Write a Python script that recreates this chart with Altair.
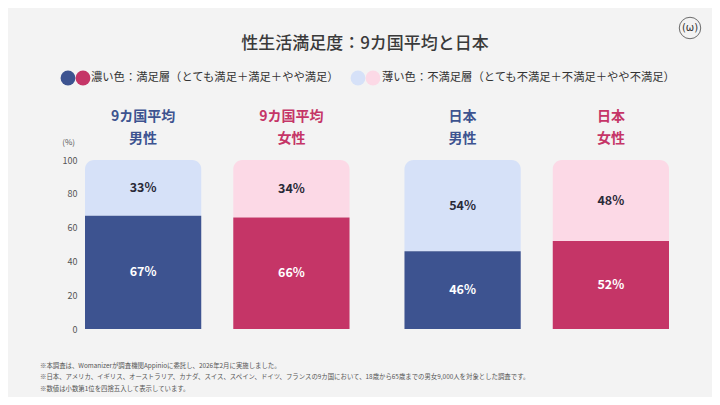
import altair as alt
import pandas as pd

# ---- data ----
regions = ["9カ国平均", "9カ国平均", "日本", "日本"]
genders = ["男性", "女性", "男性", "女性"]
satisfied = [67, 66, 46, 52]
unsatisfied = [33, 34, 54, 48]
y_ticks = [0, 20, 40, 60, 80, 100]

title_text = "性生活満足度：9カ国平均と日本"
legend_dark = "濃い色：満足層（とても満足＋満足＋やや満足）"
legend_light = "薄い色：不満足層（とても不満足＋不満足＋やや不満足）"
notes = [
    "※本調査は、Womanizerが調査機関Appinioに委託し、2026年2月に実施しました。",
    "※日本、アメリカ、イギリス、オーストラリア、カナダ、スイス、スペイン、ドイツ、フランスの9カ国において、18歳から65歳までの男女9,000人を対象とした調査です。",
    "※数値は小数第1位を四捨五入して表示しています。",
]

df = pd.DataFrame({
    "region": regions,
    "gender": genders,
    "sat": satisfied,
    "unsat": unsatisfied,
})
df["total"] = df["sat"] + df["unsat"]
df["sat_lbl"] = df["sat"].astype(str) + "%"
df["unsat_lbl"] = df["unsat"].astype(str) + "%"
df["sat_mid"] = df["sat"] / 2
df["unsat_mid"] = df["sat"] + df["unsat"] / 2

FONT = "Noto Sans CJK JP"
DARK_BLUE = "#3d5390"
CRIMSON = "#c53567"
LIGHT_BLUE = "#d6e1f8"
LIGHT_PINK = "#fcd9e6"
GREY = "#555555"

PL, PT = 77, 152  # plot origin at page (85,160)
W, H = 584, 169
OX, OY = 85, 160

xenc = alt.X("region:N", sort=["9カ国平均", "日本"],
             scale=alt.Scale(paddingInner=0.172, paddingOuter=0), axis=None)
xoff = alt.XOffset("gender:N", sort=["男性", "女性"],
                   scale=alt.Scale(paddingInner=0.216, paddingOuter=0))
yscale = alt.Scale(domain=[0, 100], nice=False)
yaxis = alt.Axis(values=y_ticks, grid=False, domain=False, ticks=False,
                 labelColor=GREY, labelFontSize=9, labelFont=FONT,
                 labelOverlap=False, labelPadding=8, title=None)
gdom = ["男性", "女性"]

base = alt.Chart(df)

light_bar = base.mark_bar(cornerRadiusTopLeft=9, cornerRadiusTopRight=9).encode(
    x=xenc, xOffset=xoff,
    y=alt.Y("sat:Q", scale=yscale, axis=yaxis),
    y2="total:Q",
    color=alt.Color("gender:N", scale=alt.Scale(domain=gdom, range=[LIGHT_BLUE, LIGHT_PINK]), legend=None),
)

dark_bar = base.mark_bar().encode(
    x=xenc, xOffset=xoff,
    y=alt.Y("sat:Q", scale=yscale, axis=yaxis),
    y2=alt.datum(0),
    color=alt.Color("gender:N", scale=alt.Scale(domain=gdom, range=[DARK_BLUE, CRIMSON]), legend=None),
)

sat_txt = base.mark_text(font=FONT, fontSize=12.5, fontWeight="bold", fill="white").encode(
    x=xenc, xOffset=xoff, y=alt.Y("sat_mid:Q", scale=yscale, axis=yaxis), text="sat_lbl:N")
unsat_txt = base.mark_text(font=FONT, fontSize=12.5, fontWeight="bold", fill="#2a2a38").encode(
    x=xenc, xOffset=xoff, y=alt.Y("unsat_mid:Q", scale=yscale, axis=yaxis), text="unsat_lbl:N")

hdr1 = base.mark_text(font=FONT, fontSize=14, fontWeight="bold").encode(
    x=xenc, xOffset=xoff, y=alt.value(117 - OY), text="region:N",
    color=alt.Color("gender:N", scale=alt.Scale(domain=gdom, range=[DARK_BLUE, CRIMSON]), legend=None))
hdr2 = base.mark_text(font=FONT, fontSize=14, fontWeight="bold").encode(
    x=xenc, xOffset=xoff, y=alt.value(139 - OY), text="gender:N",
    color=alt.Color("gender:N", scale=alt.Scale(domain=gdom, range=[DARK_BLUE, CRIMSON]), legend=None))

pct = alt.Chart(pd.DataFrame({"t": ["(%)"]})).mark_text(
    font=FONT, fontSize=8, fill=GREY, align="right").encode(
    x=alt.value(75 - OX), y=alt.value(143 - OY), text="t:N")

title = alt.Chart(pd.DataFrame({"t": [title_text]})).mark_text(
    font=FONT, fontSize=17, fontWeight=500, fill="#3a3a3a").encode(
    x=alt.value(365 - OX), y=alt.value(44 - OY), text="t:N")

def dot(px, col):
    return alt.Chart(pd.DataFrame({"a": [1]})).mark_circle(size=220, opacity=1, fill=col).encode(
        x=alt.value(px - OX), y=alt.value(78 - OY))

def label(px, txt):
    return alt.Chart(pd.DataFrame({"t": [txt]})).mark_text(
        font=FONT, fontSize=11.3, fill="#333333", align="left").encode(
        x=alt.value(px - OX), y=alt.value(78 - OY), text="t:N")

legend_layers = [
    dot(68, DARK_BLUE), dot(83, CRIMSON), label(91, legend_dark),
    dot(358, LIGHT_BLUE), dot(373, LIGHT_PINK), label(382, legend_light),
]

note_layers = [
    alt.Chart(pd.DataFrame({"t": [n]})).mark_text(
        font=FONT, fontSize=6.4, fill=GREY, align="left").encode(
        x=alt.value(40 - OX), y=alt.value(py - OY), text="t:N")
    for n, py in zip(notes, [366, 377, 389])
]

logo_c = alt.Chart(pd.DataFrame({"a": [1]})).mark_point(
    shape="circle", size=460, filled=False, stroke="#333333", strokeWidth=1).encode(
    x=alt.value(690 - OX), y=alt.value(28 - OY))
logo_t = alt.Chart(pd.DataFrame({"t": ["(ω)"]})).mark_text(
    font="DejaVu Sans", fontSize=10, fill="#333333").encode(
    x=alt.value(690 - OX), y=alt.value(28 - OY), text="t:N")

chart = alt.layer(
    light_bar, dark_bar, sat_txt, unsat_txt, hdr1, hdr2, pct, title,
    *legend_layers, *note_layers, logo_c, logo_t,
).resolve_scale(color="independent").properties(
    width=W, height=H,
    autosize=alt.AutoSizeParams(type="none"),
    padding={"left": PL, "top": PT, "right": 704 - PL - W, "bottom": 389 - PT - H},
    background="#f3f3f3",
).configure_view(stroke=None).configure_axis(labelOverlap=False)

chart.save("out.html", embed_options={"renderer": "svg", "actions": False})
